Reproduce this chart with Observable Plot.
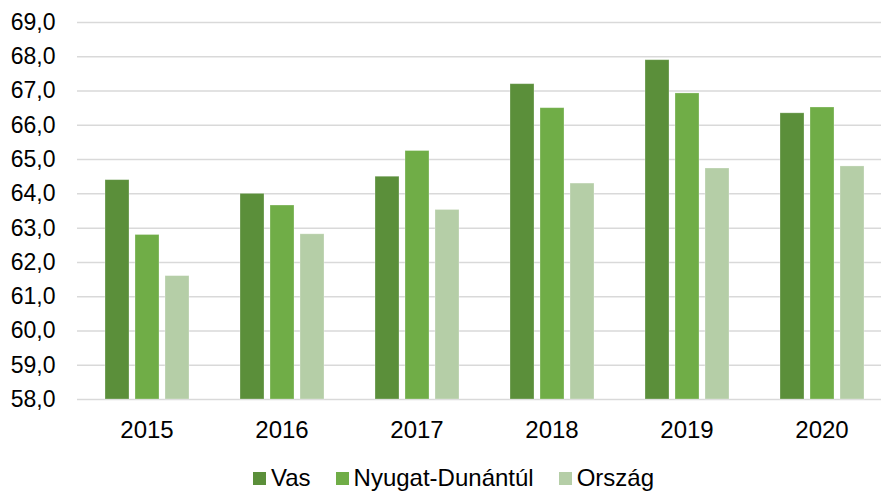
<!DOCTYPE html>
<html>
<head>
<meta charset="utf-8">
<script src="https://cdn.jsdelivr.net/npm/d3@7"></script>
<script src="https://cdn.jsdelivr.net/npm/@observablehq/plot@0.6"></script>
<style>
  html, body { margin: 0; padding: 0; background: #fff; }
  body { width: 881px; height: 491px; position: relative; overflow: hidden; font-family: "Liberation Sans", Arial, sans-serif; }
  #grid, #bars { position: absolute; left: 0; top: 0; }
  #legend { position: absolute; left: 0; top: 465px; width: 881px; height: 26px; line-height: 26px; font-size: 24px; color: #000; display: flex; padding-left: 253px; box-sizing: border-box; }
  .item { display: flex; align-items: center; margin-right: 25px; }
  .sw { width: 13px; height: 13px; margin-right: 5px; }
</style>
</head>
<body>
<div id="grid"></div>
<div id="bars"></div>
<div id="legend"></div>
<script>
const years = ["2015", "2016", "2017", "2018", "2019", "2020"];
const series = ["Vas", "Nyugat-Dunántúl", "Ország"];
const vas = [64.4, 64.0, 64.5, 67.2, 67.9, 66.35];
const nyugat = [62.8, 63.66, 65.25, 66.5, 66.93, 66.52];
const orszag = [61.6, 62.82, 63.53, 64.3, 64.74, 64.8];
const colors = ["#5B8F3A", "#70AD47", "#B5CEA7"];
const yTicks = [58, 59, 60, 61, 62, 63, 64, 65, 66, 67, 68, 69];
const yMin = 58, yMax = 69;

const valuesBySeries = [vas, nyugat, orszag];
const data = [];
years.forEach((yr, i) => series.forEach((s, j) => data.push({year: yr, series: s, value: valuesBySeries[j][i]})));

const fmt = d => d.toFixed(1).replace(".", ",");
const font = "Liberation Sans, Arial, sans-serif";
const common = {
  width: 881,
  height: 466,
  marginTop: 22,
  marginBottom: 67,
  marginLeft: 77,
  marginRight: 0
};

// Layer 1: grid lines and y axis (no facets, so lines span the full width)
const grid = Plot.plot({
  ...common,
  y: { domain: [yMin, yMax], label: null },
  style: { fontFamily: font, fontSize: "23px", color: "#000", background: "#fff" },
  marks: [
    Plot.ruleY(yTicks, { stroke: "#d9d9d9", strokeWidth: 1.5 }),
    Plot.axisY({ ticks: yTicks, tickFormat: fmt, tickSize: 0, tickPadding: 22, fontSize: 23, label: null })
  ]
});
document.getElementById("grid").appendChild(grid);

// Layer 2: grouped bars faceted by year
const bars = Plot.plot({
  ...common,
  y: { domain: [yMin, yMax], axis: null },
  style: { fontFamily: font, fontSize: "24px", color: "#000", background: "transparent", overflow: "visible" },
  fx: { domain: years, range: [77, 890], paddingInner: 0.374, paddingOuter: 0.194, label: null },
  x: { domain: series, paddingInner: 0.2, paddingOuter: 0, axis: null },
  color: { domain: series, range: colors },
  marks: [
    Plot.barY(data, { fx: "year", x: "series", y1: yMin, y2: "value", fill: "series", stroke: "#ffffff", strokeOpacity: 0.35, strokeWidth: 0.8 }),
    Plot.axisFx({ anchor: "bottom", tickSize: 0, tickPadding: 21, fontSize: 24, label: null })
  ]
});
document.getElementById("bars").appendChild(bars);

const legend = document.getElementById("legend");
series.forEach((s, i) => {
  const it = document.createElement("div");
  it.className = "item";
  const sw = document.createElement("div");
  sw.className = "sw";
  sw.style.background = colors[i];
  const t = document.createElement("span");
  t.textContent = s;
  it.appendChild(sw);
  it.appendChild(t);
  legend.appendChild(it);
});
</script>
</body>
</html>
